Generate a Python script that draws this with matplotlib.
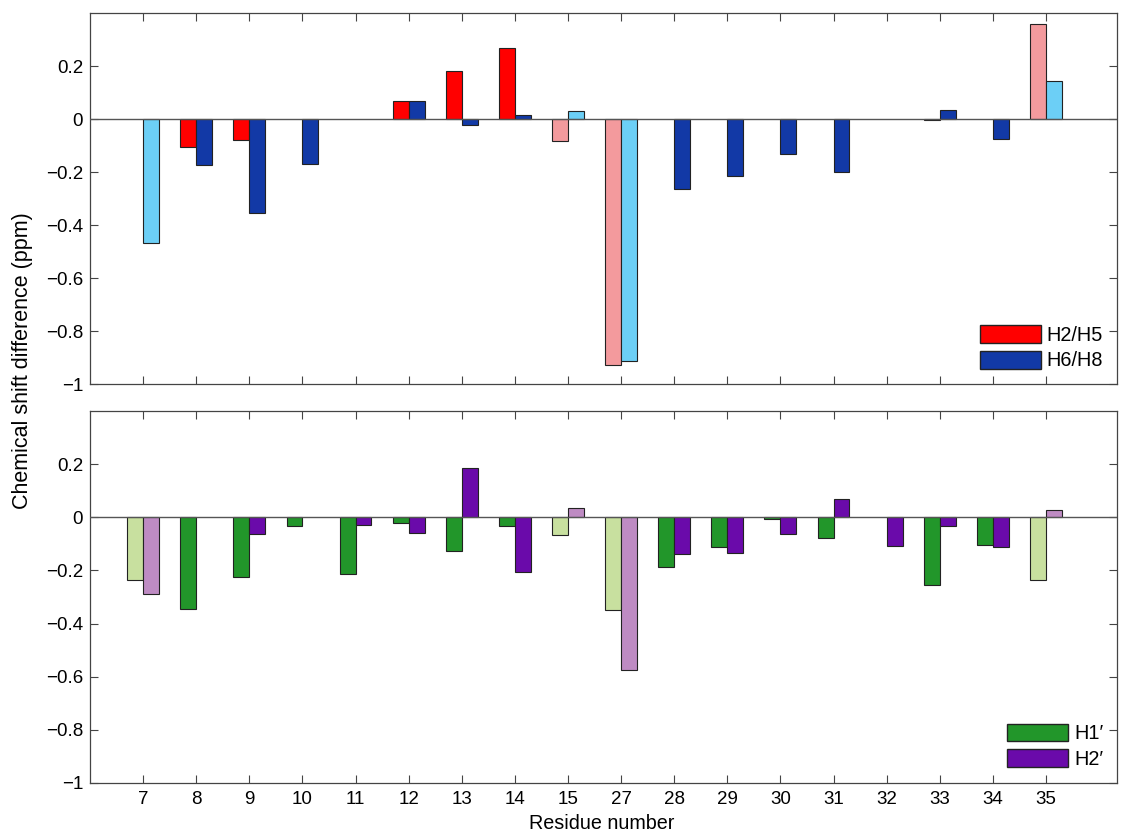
import numpy as np
import matplotlib.pyplot as plt
from matplotlib.patches import Patch

plt.rcParams.update({"font.family": "Liberation Sans", "font.size": 13.5})

residues = ["7", "8", "9", "10", "11", "12", "13", "14", "15",
            "27", "28", "29", "30", "31", "32", "33", "34", "35"]
# residues drawn in the pale colours
pale = ["7", "15", "27", "35"]

h2h5 = [np.nan, -0.104, -0.077, np.nan, np.nan, 0.070, 0.181, 0.270, -0.080,
        -0.926, np.nan, np.nan, np.nan, np.nan, np.nan, -0.004, np.nan, 0.360]
h6h8 = [-0.465, -0.171, -0.353, -0.170, np.nan, 0.070, -0.021, 0.018, 0.033,
        -0.911, -0.264, -0.215, -0.130, -0.199, np.nan, 0.036, -0.073, 0.146]
h1p = [-0.235, -0.345, -0.226, -0.031, -0.215, -0.021, -0.126, -0.031, -0.065,
       -0.348, -0.186, -0.111, -0.005, -0.078, np.nan, -0.255, -0.103, -0.236]
h2p = [-0.289, np.nan, -0.064, np.nan, -0.030, -0.060, 0.186, -0.206, 0.036,
       -0.575, -0.138, -0.133, -0.063, 0.067, -0.108, -0.033, -0.113, 0.026]

yticks = [-1, -0.8, -0.6, -0.4, -0.2, 0, 0.2]
ylabels = ["\u22121", "\u22120.8", "\u22120.6", "\u22120.4", "\u22120.2", "0", "0.2"]

panels = [
    [("H2/H5", h2h5, "#ff0000", "#f39a9d"), ("H6/H8", h6h8, "#1239a6", "#6ccff6")],
    [("H1\u2032", h1p, "#22962a", "#c8e09f"), ("H2\u2032", h2p, "#6a0aaa", "#be8bc3")],
]

fig = plt.figure(figsize=(11.25, 8.32), dpi=100)
ax_top = fig.add_axes([0.080, 0.538, 0.913, 0.446])
ax_bot = fig.add_axes([0.080, 0.059, 0.913, 0.447])

x = np.arange(1, len(residues) + 1)
w = 0.3

for ax, series in zip([ax_top, ax_bot], panels):
    handles = []
    for k, (name, vals, dark, light) in enumerate(series):
        cols = [light if r in pale else dark for r in residues]
        ax.bar(x + (k - 0.5) * w, vals, width=w, color=cols,
               edgecolor="#222222", linewidth=0.8, zorder=3)
        handles.append(Patch(facecolor=dark, edgecolor="#222222", label=name))
    ax.axhline(0, color="#555555", lw=1.0, zorder=4)
    ax.set_xlim(0, 19.34)
    ax.set_ylim(-1, 0.4)
    ax.set_yticks(yticks)
    ax.set_yticklabels(ylabels)
    ax.set_xticks(x)
    ax.tick_params(direction="in", top=True, right=True, length=6, width=0.8,
                   color="#444444")
    ax.tick_params(axis="y", pad=5)
    ax.tick_params(axis="x", pad=5.5)
    for s in ax.spines.values():
        s.set_color("#444444")
        s.set_linewidth(0.9)
    ax.legend(handles=handles, loc="lower right", frameon=False, fontsize=14.3,
              handlelength=3.05, handleheight=1.0, labelspacing=0.3,
              handletextpad=0.3, borderaxespad=0.3)

ax_top.set_xticklabels([])
ax_bot.set_xticklabels(residues)
fig.text(0.535, 0.0036, "Residue number", ha="center", va="baseline", fontsize=14.2)
fig.text(0.02, 0.567, "Chemical shift difference (ppm)", rotation=90,
         ha="center", va="center", fontsize=15.5)

fig.savefig("out.png", dpi=100)
